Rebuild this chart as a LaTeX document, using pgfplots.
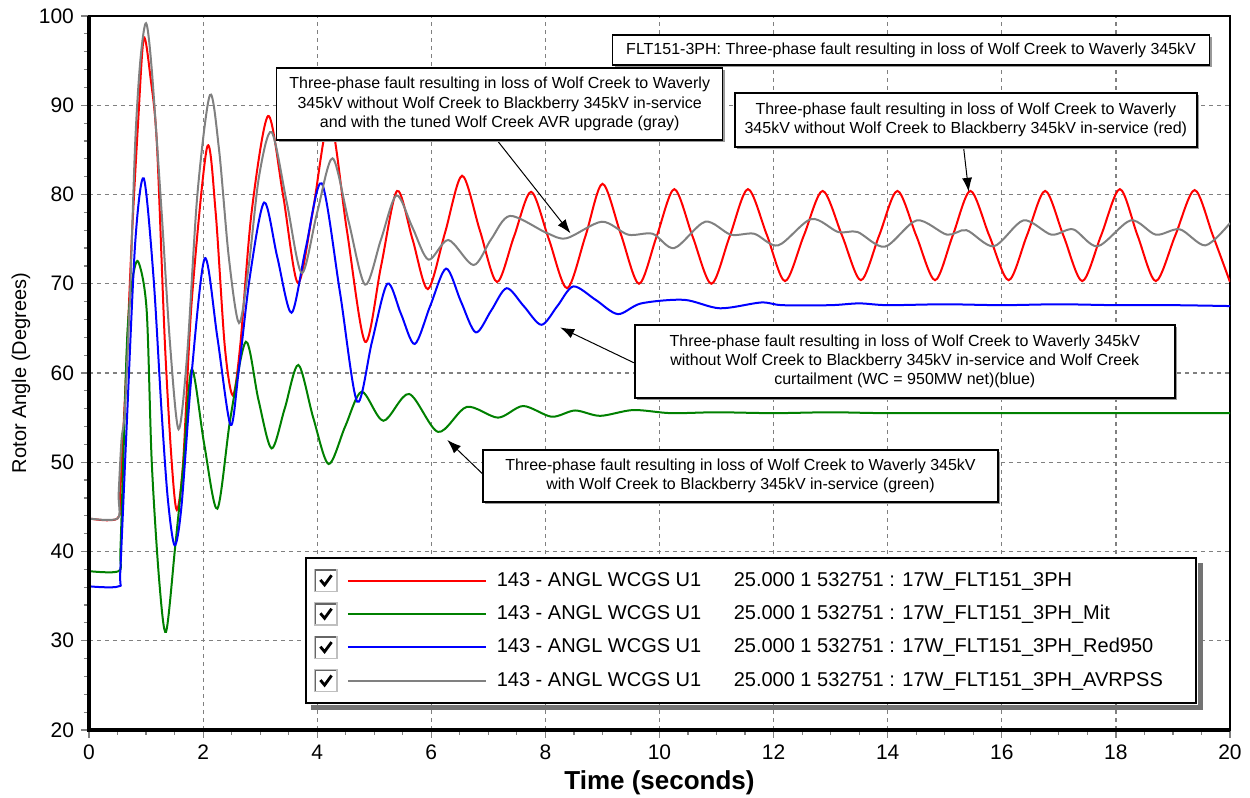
\documentclass[border=0pt]{standalone}
\usepackage{fontspec}
\setmainfont{Liberation Sans}
\usepackage{pgfplots}
\pgfplotsset{compat=1.18}
\usetikzlibrary{arrows.meta,shadows}

\definecolor{cRed}{RGB}{255,0,0}
\definecolor{cGreen}{RGB}{0,128,0}
\definecolor{cBlue}{RGB}{0,0,255}
\definecolor{cGray}{RGB}{128,128,128}

\newcommand{\legtxt}[2]{\makebox[118.5pt][l]{#1}\makebox[225pt][l]{#2}}

\tikzset{
  note/.style={draw=black, line width=0.7pt, fill=white, align=center,
    font=\fontsize{8}{9.6}\selectfont, inner sep=2pt,
    drop shadow={shadow xshift=1pt, shadow yshift=-1pt, fill=black!40, opacity=1}},
  pointer/.style={black, line width=0.5pt, -{Latex[length=7pt,width=5pt]}},
}

\begin{document}
\begin{tikzpicture}
\useasboundingbox (-44.5pt,-34pt) rectangle (580.5pt,365pt);
\begin{axis}[
  scale only axis,
  width=570.5pt, height=357pt,
  xmin=0, xmax=20, ymin=20, ymax=100,
  xtick={0,2,...,20}, ytick={20,30,...,100},
  minor x tick num=3, minor y tick num=4,
  xmajorgrids, ymajorgrids,
  grid style={black!50, dash pattern=on 2pt off 2pt, line width=0.6pt},
  tick align=outside, xtick pos=left, ytick pos=left,
  major tick length=4pt, minor tick length=2.5pt,
  tick style={black!50, line width=0.6pt},
  axis line style={line width=0.7pt},
  ticklabel style={font=\fontsize{10.5}{12}\selectfont},
  /pgf/number format/assume math mode=true,
  xlabel={\fontsize{13}{15}\selectfont\bfseries Time (seconds)},
  ylabel={Rotor Angle (Degrees)},
  x label style={at={(axis description cs:0.5,-0.0742)}, anchor=center},
  y label style={at={(axis description cs:-0.0596,0.5)}, anchor=center,
    font=\fontsize{10}{12}\selectfont},
  clip mode=individual,
  legend cell align=left,
  legend style={name=leg, at={(axis description cs:0.1893,0.2423)}, anchor=north west,
    draw=black, line width=1pt, fill=white,
    font=\fontsize{10}{12}\selectfont,
    inner xsep=4pt, inner ysep=4pt, row sep=2.2pt, column sep=3pt,
    nodes={inner sep=2pt, text height=8pt, text depth=2.5pt}},
  legend image code/.code={
    \draw[black!25, line width=0.8pt, fill=white] (0pt,-5.5pt) rectangle (11pt,5.5pt);
    \draw[black!60, line width=0.9pt] (0.4pt,-5.1pt) -- (0.4pt,5.1pt) -- (10.6pt,5.1pt);
    \draw[black, line width=1.4pt] (2.8pt,0.3pt) -- (4.9pt,-2.2pt) -- (8.4pt,2.6pt);
    \draw[#1, line width=1pt] (16.5pt,0pt) -- (85.5pt,0pt);
  },
]

% red: without Blackberry line
\addplot[cRed, line width=1pt, smooth] coordinates {
(0,43.7) (0.50,43.7) (0.55,47) (0.65,60) (0.75,75) (0.86,88) (0.96,97.5)
(1.08,93) (1.19,85.7) (1.33,63.4) (1.45,50) (1.54,44.65) (1.65,50) (1.80,68)
(2.07,85.3) (2.22,78) (2.38,63) (2.52,57.5) (2.65,63) (2.85,78) (3.14,88.8)
(3.40,80) (3.66,70.1) (3.92,78) (4.22,88.5) (4.52,76) (4.84,63.5) (5.12,72)
(5.40,80.4) (5.67,75) (5.94,69.4) (6.24,75.7) (6.54,82.1) (6.85,76) (7.15,70.2)
(7.45,75.3) (7.75,80.3) (8.06,75) (8.38,69.5) (8.70,75.3) (9.00,81.2) (9.32,75.6)
(9.64,70.0) (9.95,75.3) (10.26,80.6) (10.58,75.3) (10.91,70.0) (11.23,75.3)
(11.55,80.6) (11.88,75.5) (12.20,70.3) (12.53,75.4) (12.86,80.4) (13.20,75.4)
(13.53,70.4) (13.85,75.4) (14.17,80.4) (14.50,75.4) (14.83,70.4) (15.14,75.4)
(15.45,80.4) (15.78,75.4) (16.12,70.4) (16.44,75.4) (16.76,80.4) (17.08,75.4)
(17.41,70.3) (17.74,75.4) (18.07,80.6) (18.38,75.4) (18.70,70.3) (19.04,75.4)
(19.38,80.5) (19.70,75.4) (20.00,70.2)
};
\addlegendentry{\legtxt{143 - ANGL WCGS U1}{25.000 1 532751 : 17W\_FLT151\_3PH}}

% green: with Blackberry line
\addplot[cGreen, line width=1pt, smooth] coordinates {
(0,37.8) (0.52,37.8) (0.55,40) (0.60,50) (0.67,64) (0.75,70) (0.86,72.5)
(1.01,67.1) (1.10,50) (1.23,36.8) (1.35,31.0) (1.51,40.5) (1.65,49.5) (1.80,60.4)
(2.02,52) (2.25,44.8) (2.48,55) (2.75,63.5) (2.97,57) (3.20,51.55) (3.43,56)
(3.67,60.9) (3.93,55) (4.20,49.8) (4.49,54) (4.78,57.9) (5.16,54.65) (5.61,57.65)
(6.12,53.4) (6.62,56.2) (7.17,55.0) (7.61,56.3) (8.11,55.1) (8.52,55.8)
(8.96,55.2) (9.54,55.85) (10.2,55.5) (11,55.6) (12,55.5) (13,55.6) (14,55.5)
(16,55.5) (18,55.5) (20,55.5)
};
\addlegendentry{\legtxt{143 - ANGL WCGS U1}{25.000 1 532751 : 17W\_FLT151\_3PH\_Mit}}

% blue: curtailment
\addplot[cBlue, line width=1pt, smooth] coordinates {
(0,36.1) (0.52,36.1) (0.55,38) (0.66,54) (0.81,74.6) (0.96,81.8) (1.13,70.8)
(1.27,55.9) (1.38,46) (1.50,40.7) (1.62,45) (1.80,60) (2.03,72.85) (2.25,64)
(2.48,54.2) (2.62,60) (2.82,70.8) (3.07,79.1) (3.30,73) (3.55,66.75) (3.80,74)
(4.08,81.25) (4.40,69) (4.70,56.8) (4.96,63.5) (5.23,70.0) (5.47,66.6)
(5.71,63.25) (5.98,67.5) (6.26,71.7) (6.52,68) (6.78,64.55) (7.05,67)
(7.32,69.5) (7.62,67.5) (7.93,65.4) (8.21,67.5) (8.49,69.7) (8.88,68.2)
(9.27,66.6) (9.68,67.8) (10.43,68.2) (11.06,67.25) (11.78,67.9) (12.15,67.6)
(13.0,67.6) (13.5,67.8) (14.0,67.6) (15.0,67.7) (16.0,67.6) (17.0,67.7)
(18.0,67.6) (19.0,67.6) (20.0,67.5)
};
\addlegendentry{\legtxt{143 - ANGL WCGS U1}{25.000 1 532751 : 17W\_FLT151\_3PH\_Red950}}

% gray: tuned AVR
\addplot[cGray, line width=1pt, smooth] coordinates {
(0,43.7) (0.50,43.7) (0.52,46.5) (0.57,52.5) (0.63,55.9) (0.72,69) (0.81,85.8)
(0.90,95) (1.00,99.2) (1.10,94) (1.27,78.3) (1.42,63.3) (1.57,53.7) (1.72,62)
(1.90,80) (2.12,91.15) (2.28,85) (2.45,73) (2.63,65.6) (2.80,72) (2.98,82)
(3.20,87.0) (3.47,79) (3.73,71.2) (4.00,78) (4.27,84.05) (4.55,77) (4.84,69.9)
(5.12,75) (5.39,79.9) (5.67,76.3) (5.95,72.7) (6.30,74.9) (6.74,72.1) (7.05,75)
(7.38,77.6) (8.02,75.7) (8.37,75.1) (8.99,76.95) (9.45,75.5) (9.88,75.6)
(10.26,74.0) (10.80,76.95) (11.25,75.5) (11.66,75.6) (12.08,74.3) (12.66,77.25)
(13.13,75.8) (13.47,75.8) (13.95,74.15) (14.51,77.1) (15.04,75.5) (15.38,76.0)
(15.86,74.2) (16.38,77.1) (16.87,75.5) (17.25,76.1) (17.68,74.2) (18.26,77.1)
(18.70,75.5) (19.12,76.1) (19.57,74.3) (20.00,76.8)
};
\addlegendentry{\legtxt{143 - ANGL WCGS U1}{25.000 1 532751 : 17W\_FLT151\_3PH\_AVRPSS}}

% heavy left and bottom axis lines
\draw[black, line width=1.8pt] (rel axis cs:0,1) -- (rel axis cs:0,0) -- (rel axis cs:1,0);

% annotations
\draw[pointer] (axis cs:7.15,86.1) -- (axis cs:8.44,75.65);
\draw[pointer] (axis cs:15.33,85.3) -- (axis cs:15.42,80.3);
\draw[pointer] (axis cs:9.55,61.15) -- (axis cs:8.26,65.1);
\draw[pointer] (axis cs:6.92,48.57) -- (axis cs:6.28,52.5);

\node[note, minimum width=298.5pt, minimum height=15pt] at (axis cs:14.41,96.2)
  {FLT151-3PH: Three-phase fault resulting in loss of Wolf Creek to Waverly 345kV};
\node[note, minimum width=223pt, minimum height=36pt] at (axis cs:7.2,90.14)
  {Three-phase fault resulting in loss of Wolf Creek to Waverly\\
   345kV without Wolf Creek to Blackberry 345kV in-service\\
   and with the tuned Wolf Creek AVR upgrade (gray)};
\node[note, minimum width=231pt, minimum height=27pt] at (axis cs:15.37,88.35)
  {Three-phase fault resulting in loss of Wolf Creek to Waverly\\
   345kV without Wolf Creek to Blackberry 345kV in-service (red)};
\node[note, minimum width=270pt, minimum height=36.5pt] at (axis cs:14.30,61.29)
  {Three-phase fault resulting in loss of Wolf Creek to Waverly 345kV\\
   without Wolf Creek to Blackberry 345kV in-service and Wolf Creek\\
   curtailment (WC = 950MW net)(blue)};
\node[note, minimum width=257.5pt, minimum height=26pt] at (axis cs:11.42,48.46)
  {Three-phase fault resulting in loss of Wolf Creek to Waverly 345kV\\
   with Wolf Creek to Blackberry 345kV in-service (green)};
\end{axis}
% legend shadow (right and bottom strips, outside the legend frame)
\fill[black!55] ([xshift=0.5pt,yshift=-3pt]leg.north east) rectangle ([xshift=3pt,yshift=-3pt]leg.south east);
\fill[black!55] ([xshift=3pt,yshift=-0.5pt]leg.south west) rectangle ([xshift=3pt,yshift=-3pt]leg.south east);
\end{tikzpicture}
\end{document}
